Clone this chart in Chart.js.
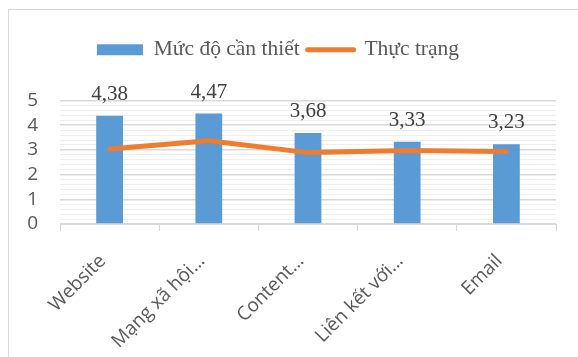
<!DOCTYPE html>
<html>
<head>
<meta charset="utf-8">
<title>Mức độ cần thiết và thực trạng</title>
<script src="https://cdn.jsdelivr.net/npm/chart.js"></script>
<style>
  body { margin: 0; background: #fff; }
  #frame { position: absolute; left: 8px; top: 9px; width: 600px; height: 400px;
           border-left: 1px solid #d9d9d9; border-top: 1px solid #d9d9d9; }
  #wrap { position: absolute; left: 0; top: 0; width: 578px; height: 357px; }
</style>
</head>
<body>
<div id="frame"></div>
<div id="wrap"><canvas id="chart"></canvas></div>
<script>
  // chart data
  var categories = ['Website', 'Mạng xã hội…', 'Content…', 'Liên kết với…', 'Email'];
  var canThiet = [4.38, 4.47, 3.68, 3.33, 3.23];
  var thucTrang = [3.04, 3.37, 2.89, 2.98, 2.94];
  var seriesNames = ['Mức độ cần thiết', 'Thực trạng'];

  var blue = '#5b9bd5';
  var orange = '#ed7d31';

  function isWhole(v) {
    return Math.abs(v - Math.round(v)) < 1e-6;
  }

  // value labels above the bars
  var barLabels = {
    id: 'barLabels',
    afterDatasetsDraw: function(chart) {
      var ctx = chart.ctx;
      var meta = chart.getDatasetMeta(1);
      ctx.save();
      ctx.font = '21px "Liberation Serif", "Times New Roman", serif';
      ctx.fillStyle = '#404040';
      ctx.textAlign = 'center';
      ctx.textBaseline = 'alphabetic';
      meta.data.forEach(function(bar, i) {
        var txt = canThiet[i].toFixed(2).replace('.', ',');
        ctx.fillText(txt, bar.x, bar.y - 16);
      });
      ctx.restore();
    }
  };

  // extra room between the legend and the plot
  var legendGap = {
    id: 'legendGap',
    beforeLayout: function(chart) {
      var lg = chart.legend;
      if (lg && !lg._gapDone) {
        var fit = lg.fit;
        lg.fit = function() { fit.call(this); this.height += 30; };
        lg._gapDone = true;
      }
    }
  };

  var ctx = document.getElementById('chart').getContext('2d');
  var myChart = new Chart(ctx, {
    type: 'bar',
    data: {
      labels: categories,
      datasets: [{
        type: 'line',
        label: seriesNames[1],
        data: thucTrang,
        borderColor: orange,
        backgroundColor: orange,
        borderWidth: 5,
        borderCapStyle: 'round',
        borderJoinStyle: 'round',
        pointRadius: 0,
        tension: 0,
        order: 0
      }, {
        label: seriesNames[0],
        data: canThiet,
        backgroundColor: blue,
        borderWidth: 0,
        barPercentage: 0.27,
        categoryPercentage: 1,
        order: 1
      }]
    },
    options: {
      responsive: true,
      maintainAspectRatio: false,
      animation: false,
      layout: { padding: { top: 31, right: 22, left: 0, bottom: 0 } },
      plugins: {
        tooltip: { enabled: false },
        legend: {
          position: 'top',
          labels: {
            usePointStyle: true,
            pointStyleWidth: 46,
            boxHeight: 11,
            padding: 8,
            color: '#595959',
            font: { family: '"Liberation Serif", "Times New Roman", serif', size: 21.5 },
            generateLabels: function(chart) {
              return [{
                text: seriesNames[0], fillStyle: blue, strokeStyle: blue,
                lineWidth: 0, pointStyle: 'rect', datasetIndex: 1, fontColor: '#595959'
              }, {
                text: seriesNames[1], fillStyle: orange, strokeStyle: orange,
                lineWidth: 5, lineCap: 'round', pointStyle: 'line', datasetIndex: 0, fontColor: '#595959'
              }];
            }
          }
        }
      },
      scales: {
        x: {
          grid: { drawOnChartArea: false, drawTicks: true, tickLength: 7, color: '#d9d9d9', offset: true },
          border: { display: true, color: '#d9d9d9', width: 1 },
          ticks: {
            maxRotation: 45, minRotation: 45, padding: 19, labelOffset: -7,
            color: '#595959',
            font: { family: '"Open Sans", sans-serif', size: 19 }
          },
          afterFit: function(scale) { scale.height = 133; }
        },
        y: {
          min: 0,
          max: 5,
          border: { display: false },
          grid: {
            drawTicks: false,
            color: function(c) { return isWhole(c.tick.value) ? '#d9d9d9' : '#efefef'; },
            lineWidth: function(c) { return isWhole(c.tick.value) ? 1.5 : 1; }
          },
          ticks: {
            stepSize: 0.2,
            autoSkip: false,
            padding: 22,
            color: '#595959',
            font: { family: '"Open Sans", sans-serif', size: 19 },
            callback: function(v) { return isWhole(v) ? Math.round(v) : ''; }
          },
          afterFit: function(scale) { scale.width = 60; }
        }
      }
    },
    plugins: [barLabels, legendGap]
  });
</script>
</body>
</html>
